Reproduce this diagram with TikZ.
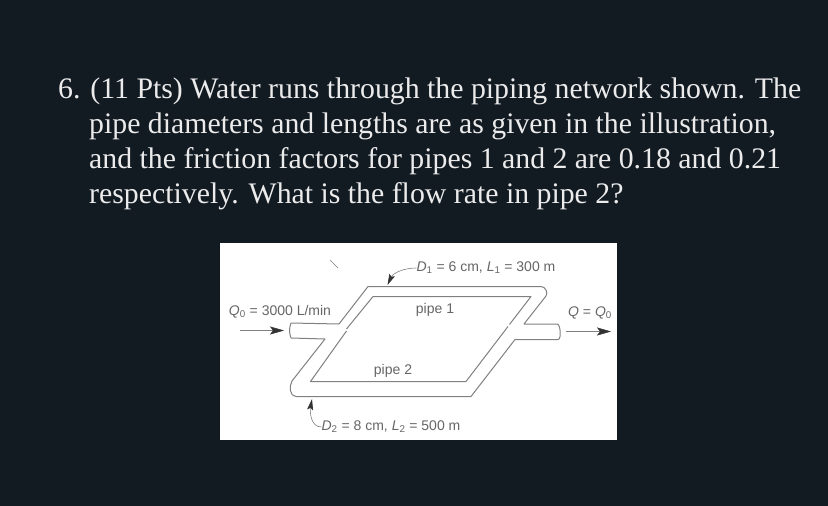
\documentclass[tikz,border=0pt]{standalone}
\usepackage{fontspec}
\setmainfont{Liberation Serif}
\setsansfont{Liberation Sans}
\usepackage{xcolor}
\usetikzlibrary{arrows.meta, positioning}
\definecolor{darkbg}{HTML}{121A22}
\definecolor{pipegray}{HTML}{808080}
\definecolor{labelgray}{HTML}{666666}
\definecolor{tipgray}{HTML}{333333}
\newcommand{\figvar}[2]{\textit{#1}\textsubscript{#2}}
\begin{document}
\begin{tikzpicture}[x = 1pt, y = -1pt,
		textline/.style = { anchor = base west, inner sep = 0pt, text = white!92!black, font = \fontsize{29.8}{35}\selectfont },
		figlabel/.style = { inner sep = 0pt, text = labelgray, font = \sffamily\fontsize{14}{16}\selectfont },
		pipewall/.style = { draw = pipegray, line width = 1pt, line join = round },
		flowarrow/.style = { -{Stealth[length = 14pt, width = 8pt, inset = 3pt, color = tipgray]}, draw = pipegray, line width = 0.5pt },
		leader/.style = { -{Stealth[length = 11pt, width = 6pt, inset = 2pt, color = tipgray]}, draw = pipegray, line width = 0.6pt }]
	\useasboundingbox (0, 0) rectangle (828, 506);
	\fill [darkbg] (0, 0) rectangle (828, 506);
	\fill [white] (220, 243) rectangle (617, 440);

	\node [textline] (line1) at (58, 98) {6. (11 Pts) Water runs through the piping network shown. The};
	\node [textline] (line2) at (89, 133) {pipe diameters and lengths are as given in the illustration,};
	\node [textline] (line3) at (89, 168) {and the friction factors for pipes 1 and 2 are 0.18 and 0.21};
	\node [textline] (line4) at (89, 203) {respectively. What is the flow rate in pipe 2?};

	\node [figlabel] (d1) at (486, 268) {\figvar{D}{1} = 6 cm, \figvar{L}{1} = 300 m};
	\node [figlabel] (pipe1) at (435, 310) {pipe 1};
	\node [figlabel] (pipe2) at (393, 371) {pipe 2};
	\node [figlabel] (q0) at (280, 312) {\figvar{Q}{0} = 3000 L/min};
	\node [figlabel] (q) at (590, 313) {\textit{Q} = \figvar{Q}{0}};
	\node [figlabel] (d2) at (391, 427) {\figvar{D}{2} = 8 cm, \figvar{L}{2} = 500 m};

	\draw [pipewall] (291, 323) -- (339, 324) -- (368, 286.5) -- (541, 286.5)
		to[out = 0, in = 55] (546, 296) -- (524, 324) -- (557, 324)
		to[out = 0, in = 0, looseness = 0.6] (558, 339.5) -- (515, 339.5) -- (471, 396.5) -- (296, 396.5)
		to[out = 180, in = 240] (292, 381) -- (325, 339) -- (291, 338);
	\draw [pipewall] (291, 323) to[bend right = 20] (291, 338);
	\draw [pipewall] (346.5, 331) -- (310.5, 381.5) -- (466, 381.5) -- (508, 326.5);
	\draw [pipewall] (346.5, 329) -- (373, 296.5) -- (531, 296.5) -- (509.5, 324.5);

	\coordinate (inStart) at (240, 330.5);
	\coordinate (inEnd) at (284, 330.5);
	\coordinate (outStart) at (566, 331.5);
	\coordinate (outEnd) at (611, 331.5);
	\coordinate (d1Tip) at (387.5, 285);
	\coordinate (d2Tip) at (312, 399);
	\coordinate (speckA) at (330, 260);
	\coordinate (speckB) at (338, 268);

	\draw [flowarrow] (inStart) -- (inEnd);
	\draw [flowarrow] (outStart) -- (outEnd);
	\draw [leader] (d1.west) to[out = 180, in = 65] (d1Tip);
	\draw [leader] (d2.west) to[out = 180, in = 260] (d2Tip);
	\draw [draw = pipegray, line width = 0.6pt] (speckA) -- (speckB);
\end{tikzpicture}
\end{document}
